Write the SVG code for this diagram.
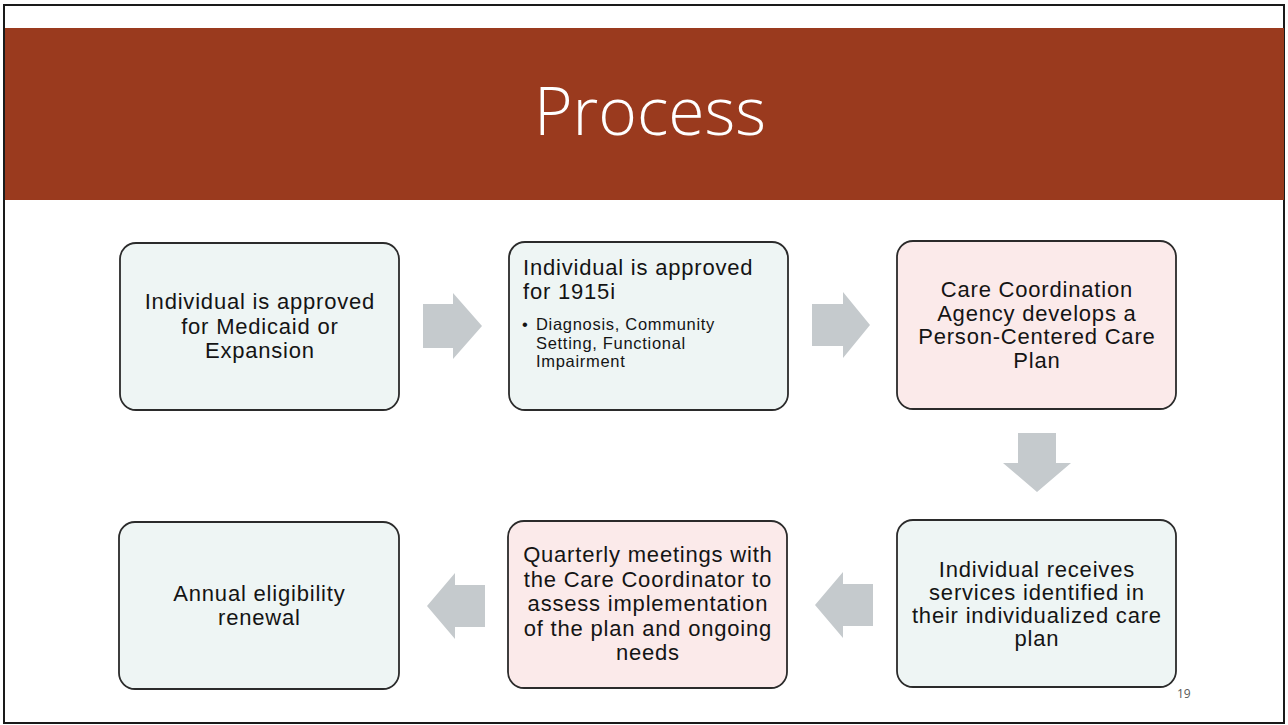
<svg xmlns="http://www.w3.org/2000/svg" width="1288" height="725" viewBox="0 0 1288 725">
<style>
.box{stroke:#2b2b2b;stroke-width:1.8}
.blue{fill:#eef5f4}
.pink{fill:#fbeaea}
.t{font-family:"Liberation Sans",Arial,sans-serif;font-size:22px;letter-spacing:0.8px;fill:#141414;text-anchor:middle}
.tl{font-family:"Liberation Sans",Arial,sans-serif;font-size:22px;letter-spacing:0.8px;fill:#141414}
.b{font-family:"Liberation Sans",Arial,sans-serif;font-size:16.5px;letter-spacing:0.7px;fill:#141414}
.arr{fill:#c5cacd}
</style>
<rect x="0" y="0" width="1288" height="725" fill="#ffffff"/>
<rect x="4" y="5" width="1280" height="718" fill="#ffffff" stroke="#1a1a1a" stroke-width="2"/>
<rect x="5" y="28" width="1279" height="172" fill="#9a3a1e"/>
<text x="650" y="135" font-family="'Open Sans',sans-serif" font-weight="300" font-size="66" fill="#ffffff" text-anchor="middle">Process</text>

<g id="connectors">
<polygon class="arr" points="423,304 453,304 453,293 482,326 453,359 453,348 423,348"/>
<polygon class="arr" points="812,304 843,304 843,292 870,325 843,358 843,346 812,346"/>
<polygon class="arr" points="1018,433 1056,433 1056,463 1071,463 1037,492 1003,463 1018,463"/>
<polygon class="arr" points="873,584 843,584 843,572 815,605 843,638 843,626 873,626"/>
<polygon class="arr" points="485,585 455,585 455,573 427,606 455,639 455,627 485,627"/>
</g>

<g id="node1">
<rect class="box blue" x="120" y="243" width="279" height="167" rx="16"/>
<text class="t"><tspan x="259.9" y="309">Individual is approved</tspan><tspan x="259.9" y="333.5">for Medicaid or</tspan><tspan x="259.9" y="358">Expansion</tspan></text>
</g>

<g id="node2">
<rect class="box blue" x="509" y="242" width="279" height="168" rx="16"/>
<text class="tl"><tspan x="523" y="275">Individual is approved</tspan><tspan x="523" y="298.5">for 1915i</tspan></text>
<text class="b"><tspan x="522" y="330">•</tspan><tspan x="536" y="330">Diagnosis, Community</tspan><tspan x="536" y="348.5">Setting, Functional</tspan><tspan x="536" y="367">Impairment</tspan></text>
</g>

<g id="node3">
<rect class="box pink" x="897" y="241" width="279" height="168" rx="16"/>
<text class="t"><tspan x="1036.9" y="297.2">Care Coordination</tspan><tspan x="1036.9" y="320.7">Agency develops a</tspan><tspan x="1036.9" y="344.2">Person-Centered Care</tspan><tspan x="1036.9" y="367.7">Plan</tspan></text>
</g>

<g id="node4">
<rect class="box blue" x="119" y="522" width="280" height="167" rx="16"/>
<text class="t"><tspan x="259.4" y="601">Annual eligibility</tspan><tspan x="259.4" y="625">renewal</tspan></text>
</g>

<g id="node5">
<rect class="box pink" x="508" y="521" width="279" height="167" rx="16"/>
<text class="t"><tspan x="647.9" y="562">Quarterly meetings with</tspan><tspan x="647.9" y="586.5">the Care Coordinator to</tspan><tspan x="647.9" y="611">assess implementation</tspan><tspan x="647.9" y="635.5">of the plan and ongoing</tspan><tspan x="647.9" y="660">needs</tspan></text>
</g>

<g id="node6">
<rect class="box blue" x="897" y="520" width="279" height="167" rx="16"/>
<text class="t"><tspan x="1036.9" y="576.5">Individual receives</tspan><tspan x="1036.9" y="599.5">services identified in</tspan><tspan x="1036.9" y="622.5">their individualized care</tspan><tspan x="1036.9" y="645.5">plan</tspan></text>
</g>

<text x="1177" y="698" font-family="'Open Sans',sans-serif" font-size="12" fill="#595959">19</text>
</svg>
